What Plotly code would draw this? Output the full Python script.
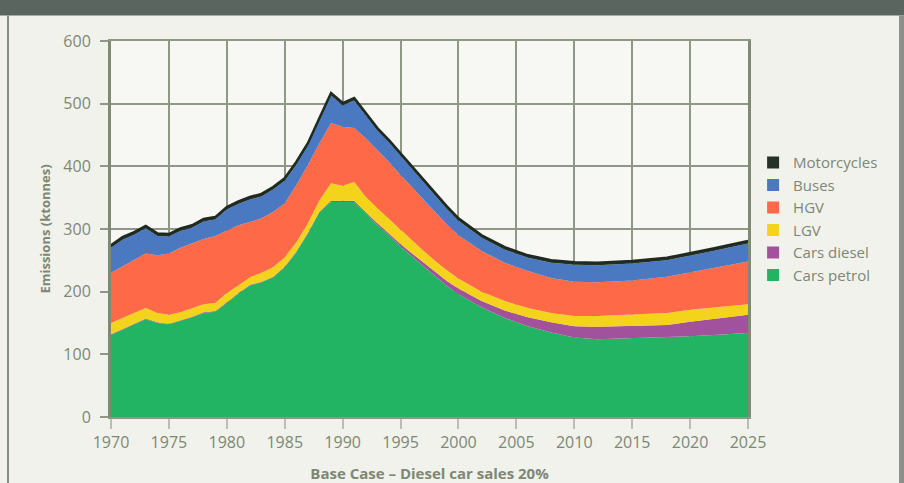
import plotly.graph_objects as go

years = [1970, 1971, 1972, 1973, 1974, 1975, 1976, 1977, 1978, 1979,
         1980, 1981, 1982, 1983, 1984, 1985, 1986, 1987, 1988, 1989,
         1990, 1991, 1992, 1993, 1994, 1995, 1996, 1997, 1998, 1999,
         2000, 2002, 2004, 2006, 2008, 2010, 2012, 2015, 2018, 2020,
         2022, 2025]

cars_petrol = [131, 140, 148, 156, 150, 148, 153, 159, 166, 168,
               182, 197, 210, 215, 223, 239, 263, 293, 327, 343,
               343, 343, 325, 306, 290, 272, 256, 240, 224, 209,
               196, 175, 158, 145, 135, 127, 124, 126, 127, 129,
               131, 134]
cars_diesel = [1, 1, 1, 1, 1, 1, 1, 1, 1, 1,
               1, 1, 1, 1, 1, 1, 1, 1, 1, 2,
               2, 2, 2, 3, 3, 4, 5, 6, 7, 8,
               9, 10, 12, 14, 16, 18, 20, 19, 20, 23,
               25, 29]
lgv = [18, 17, 17, 17, 15, 14, 13, 14, 13, 13,
       15, 12, 12, 14, 15, 15, 15, 15, 18, 28,
       24, 30, 24, 24, 23, 22, 21, 19, 18, 17,
       16, 15, 15, 15, 15, 16, 17, 18, 19, 19,
       19, 17]
hgv = [80, 82, 84, 87, 92, 98, 103, 103, 104, 107,
       100, 96, 88, 87, 88, 86, 91, 93, 91, 96,
       94, 86, 94, 93, 91, 88, 84, 81, 77, 73,
       69, 65, 61, 59, 56, 55, 54, 55, 58, 60,
       63, 68]
buses = [40, 43, 41, 40, 31, 27, 27, 25, 28, 26,
         33, 34, 36, 35, 36, 36, 33, 31, 36, 44,
         34, 44, 36, 31, 31, 31, 30, 28, 27, 25,
         23, 21, 21, 21, 24, 27, 27, 27, 26, 26,
         27, 29]
motorcycles = [4] * len(years)

series = [
    ("Cars petrol", cars_petrol, "#22b462"),
    ("Cars diesel", cars_diesel, "#a2529c"),
    ("LGV", lgv, "#f3d31c"),
    ("HGV", hgv, "#fe6a47"),
    ("Buses", buses, "#4a78c1"),
    ("Motorcycles", motorcycles, "#263227"),
]

x_ticks = list(range(1970, 2026, 5))
y_ticks = [0, 100, 200, 300, 400, 500, 600]

font_fam = "'Open Sans', Lato, sans-serif"
txt_col = "#7d8775"
grid_col = "#8f9887"

fig = go.Figure()
for name, vals, col in series:
    is_moto = name == "Motorcycles"
    fig.add_trace(go.Scatter(
        x=years, y=vals, name=name, stackgroup="one", mode="lines",
        line=dict(color="#1f2a20" if is_moto else col, width=2.5 if is_moto else 0),
        fillcolor=col, showlegend=False, hoverinfo="x+y+name"))

# legend entries (square swatches), top to bottom
for name, vals, col in reversed(series):
    fig.add_trace(go.Scatter(
        x=[None], y=[None], name=name, mode="markers",
        marker=dict(symbol="square", size=13, color=col), showlegend=True))

fig.update_layout(
    width=904, height=483,
    margin=dict(l=111, r=156, t=41, b=66, autoexpand=False),
    paper_bgcolor="#f1f2ec", plot_bgcolor="#f7f7f3",
    font=dict(family=font_fam, color=txt_col, size=14),
    showlegend=True,
    legend=dict(x=1.008, y=0.72, xanchor="left", yanchor="top",
                traceorder="normal",
                bgcolor="rgba(0,0,0,0)", font=dict(size=15, color=txt_col),
                itemsizing="constant", tracegroupgap=0),
    xaxis=dict(range=[1970, 2025], tickvals=x_ticks, ticktext=[str(t) for t in x_ticks],
               showgrid=True, gridcolor=grid_col, gridwidth=1.5,
               showline=True, linecolor=grid_col, linewidth=1.5, mirror=True,
               ticks="outside", ticklen=10, tickcolor="#b9bdb2", tickwidth=1.5,
               tickfont=dict(size=16, color=txt_col), zeroline=False, automargin=False,
               title=dict(text="<b>Base Case – Diesel car sales 20%</b>",
                          font=dict(size=15, color=txt_col), standoff=17)),
    yaxis=dict(range=[0, 600], tickvals=y_ticks,
               showgrid=True, gridcolor=grid_col, gridwidth=1.5,
               showline=True, linecolor="#7f8a76", linewidth=3, mirror=True,
               ticks="outside", ticklen=8, tickcolor="#8f9887", tickwidth=1.5,
               ticklabelstandoff=6,
               tickfont=dict(size=16, color=txt_col), zeroline=False, automargin=False,
               title=dict(text="<b>Emissions (ktonnes)</b>",
                          font=dict(size=13, color=txt_col), standoff=10)),
    shapes=[
        dict(type="rect", xref="paper", yref="paper", x0=-0.18, x1=1.26,
             y0=1.0677, y1=1.13, fillcolor="#5b6560", line=dict(width=0), layer="above"),
        dict(type="line", xref="paper", yref="paper", x0=-0.1617, x1=-0.1617,
             y0=-0.2, y1=1.0677, line=dict(color="#858d86", width=2)),
        dict(type="rect", xref="paper", yref="paper", x0=1.2371, x1=1.26,
             y0=-0.2, y1=1.0677, fillcolor="#8a918b", line=dict(width=0)),
    ],
)

fig.write_html(
    "out.html",
    config={"displayModeBar": False},
    post_script="document.body.style.margin='0';document.body.style.overflow='hidden';",
)
